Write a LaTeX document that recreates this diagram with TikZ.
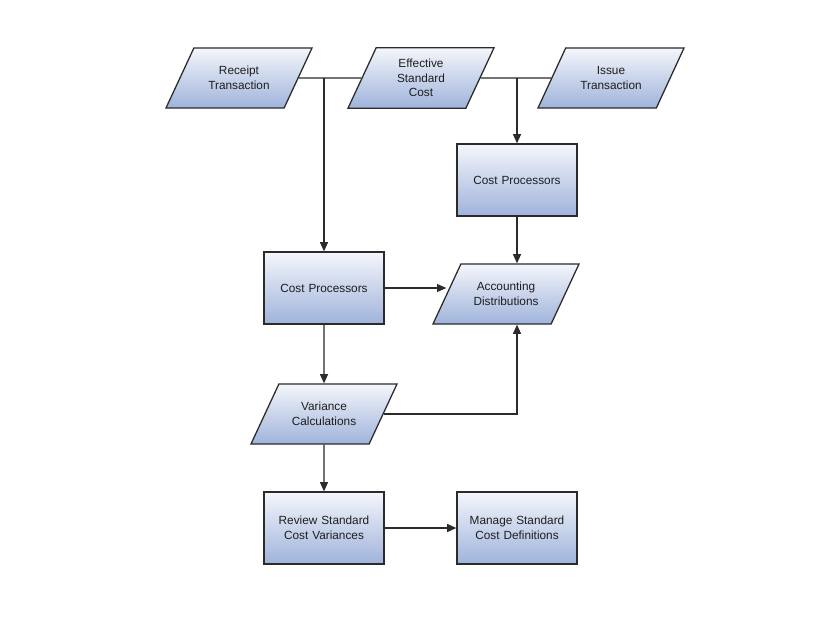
\documentclass[tikz,border=0pt]{standalone}
\usepackage{fontspec}
\setmainfont{Liberation Sans}
\usetikzlibrary{arrows.meta,shapes.geometric}
\definecolor{ctop}{HTML}{F4F6FB}
\definecolor{cbot}{HTML}{9FB3DB}
\definecolor{cedge}{HTML}{2B2B2B}
\definecolor{ctext}{HTML}{1E1E1E}

\begin{document}
\begin{tikzpicture}[
  x=0.025cm,y=-0.025cm,
  font=\fontsize{8.4}{10.4}\selectfont\color{ctext},
  proc/.style={draw=cedge,line width=0.9pt,top color=ctop,bottom color=cbot,
               minimum width=3cm,minimum height=1.8cm,text width=2.8cm,
               align=center,inner sep=0pt},
  data/.style={trapezium,trapezium left angle=65,trapezium right angle=115,
               trapezium stretches body=true,draw=cedge,line width=0.9pt,
               top color=ctop,bottom color=cbot,minimum width=3.65cm,
               minimum height=1.5cm,text width=2.2cm,align=center,
               inner xsep=0pt,inner ysep=13pt},
  data3/.style={data,inner ysep=8pt},
  arr/.style={-{Triangle[length=2.3mm,width=2mm]},draw=cedge,line width=0.8pt},
  lin/.style={draw=cedge,line width=0.8pt}]

  \fill[white] (0,0) rectangle (840,624);

  \node[data]  (rec) at (239,78) {Receipt\\Transaction};
  \node[data3] (esc) at (421,78) {Effective\\Standard\\Cost};
  \node[data]  (iss) at (611,78) {Issue\\Transaction};

  \node[proc] (cpr) at (517,180) {Cost Processors};
  \node[proc] (cpl) at (324,288) {Cost Processors};
  \node[data] (acc) at (506,294) {Accounting\\Distributions};
  \node[data] (var) at (324,414) {Variance\\Calculations};
  \node[proc] (rev) at (324,528) {Review Standard\\Cost Variances};
  \node[proc] (man) at (517,528) {Manage Standard\\Cost Definitions};

  \draw[lin] (rec.east) -- (esc.west);
  \draw[lin] (esc.east) -- (iss.west);
  \draw[arr] (cpl.north |- rec.east) -- (cpl.north);
  \draw[arr] (cpr.north |- esc.east) -- (cpr.north);
  \draw[arr] (cpr.south) -- (cpr.south |- acc.north);
  \draw[arr] (cpl.east) -- (cpl.east -| acc.west);
  \draw[arr] (cpl) -- (var);
  \draw[arr] (var.east) -| (cpr.south |- acc.south);
  \draw[arr] (var) -- (rev);
  \draw[arr] (rev) -- (man);
\end{tikzpicture}
\end{document}
